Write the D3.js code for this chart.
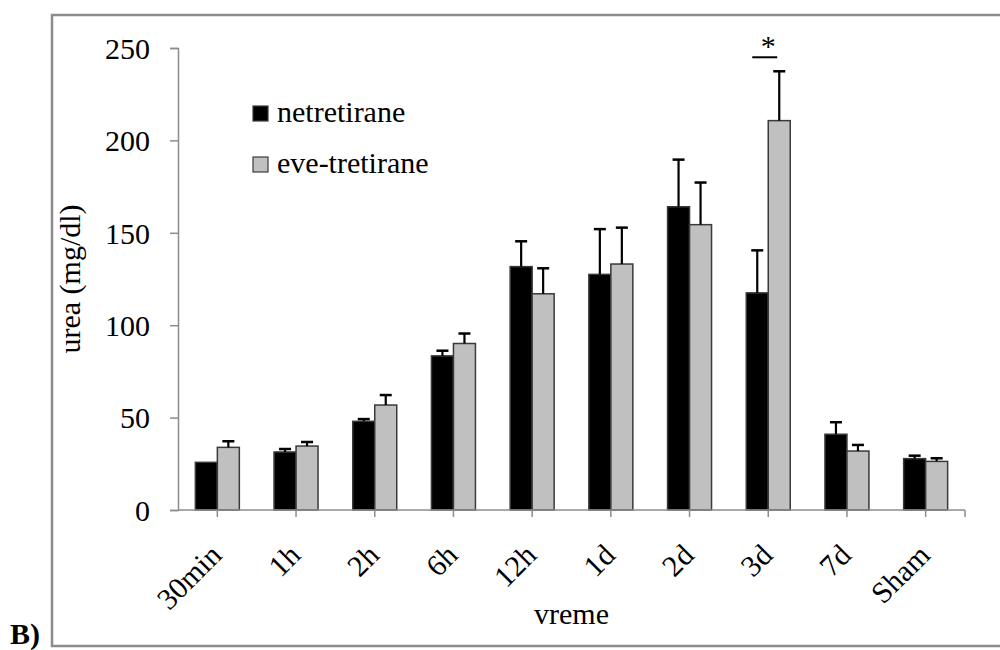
<!DOCTYPE html>
<html>
<head>
<meta charset="utf-8">
<script src="https://cdn.jsdelivr.net/npm/d3@7"></script>
<style>
  html, body { margin: 0; padding: 0; background: #fff; }
  svg { display: block; }
  text { font-family: "Liberation Serif", "Times New Roman", serif; fill: #000; }
</style>
</head>
<body>
<svg id="chart" width="1000" height="650"></svg>
<script>
// Time points after treatment
const categories = ["30min", "1h", "2h", "6h", "12h", "1d", "2d", "3d", "7d", "Sham"];
const seriesNames = ["netretirane", "eve-tretirane"];

// Mean urea (mg/dl) and upward error (SD/SEM) per time point
const netretiraneMean = [25.8, 31.4, 48.0, 83.4, 131.7, 127.5, 164.1, 117.5, 41.0, 27.8];
const netretiraneErr  = [0,    1.6,  1.2,  2.8,  13.7,  24.5,  25.5,  23.0,  6.5,  1.6];
const tretiraneMean   = [33.9, 34.6, 56.8, 90.1, 117.0, 133.1, 154.4, 210.7, 31.9, 26.3];
const tretiraneErr    = [3.3,  2.2,  5.4,  5.4,  13.8,  19.7,  22.8,  26.7,  3.3,  1.7];

const yTicks = [0, 50, 100, 150, 200, 250];

// Significance marker over the 3d pair
const significant = ["3d"];

const colors = { "netretirane": "#000000", "eve-tretirane": "#c0c0c0" };

const svg = d3.select("#chart");

// Outer frame
svg.append("rect")
  .attr("x", 52).attr("y", 15)
  .attr("width", 1000).attr("height", 631)
  .attr("fill", "none").attr("stroke", "#8c8c8c").attr("stroke-width", 2.5);

// Panel letter
svg.append("text")
  .attr("x", 10).attr("y", 644)
  .attr("font-size", 30).attr("font-weight", "bold")
  .text("B)");

const plot = { left: 178, right: 965, top: 48, bottom: 510 };

const x = d3.scaleBand()
  .domain(categories)
  .range([plot.left, plot.right])
  .paddingInner(0.441)
  .paddingOuter(0.2205);

const xSub = d3.scaleBand()
  .domain(seriesNames)
  .range([0, x.bandwidth()]);

const y = d3.scaleLinear()
  .domain([0, 250])
  .range([plot.bottom, plot.top]);

const rows = categories.map((c, i) => ({
  cat: c,
  values: [
    { name: "netretirane", v: netretiraneMean[i], e: netretiraneErr[i] },
    { name: "eve-tretirane", v: tretiraneMean[i], e: tretiraneErr[i] }
  ]
}));

// Y axis
const yAxis = svg.append("g")
  .attr("transform", `translate(${plot.left},0)`)
  .call(d3.axisLeft(y).tickValues(yTicks).tickSize(8).tickPadding(20).tickFormat(d3.format("d")));
yAxis.select(".domain").attr("stroke", "#8c8c8c").attr("stroke-width", 1.5);
yAxis.selectAll(".tick line").attr("stroke", "#8c8c8c").attr("stroke-width", 1.5);
yAxis.selectAll(".tick text")
  .attr("font-size", 30)
  .attr("font-family", "Liberation Serif, Times New Roman, serif")
  .attr("fill", "#000")
  .attr("dy", "0.34em");

// Bars
const groups = svg.append("g").selectAll("g")
  .data(rows).join("g")
  .attr("transform", d => `translate(${x(d.cat)},0)`);

groups.selectAll("rect")
  .data(d => d.values).join("rect")
  .attr("x", d => xSub(d.name))
  .attr("y", d => y(d.v))
  .attr("width", xSub.bandwidth())
  .attr("height", d => y(0) - y(d.v))
  .attr("fill", d => colors[d.name])
  .attr("stroke", "#3a3a3a")
  .attr("stroke-width", 1.5);

// Error bars (upper half only)
const err = groups.selectAll("g.err")
  .data(d => d.values.filter(v => v.e > 0)).join("g")
  .attr("class", "err");
err.append("line")
  .attr("x1", d => xSub(d.name) + xSub.bandwidth() / 2)
  .attr("x2", d => xSub(d.name) + xSub.bandwidth() / 2)
  .attr("y1", d => y(d.v))
  .attr("y2", d => y(d.v + d.e))
  .attr("stroke", "#000").attr("stroke-width", 2.2);
err.append("line")
  .attr("x1", d => xSub(d.name) + xSub.bandwidth() / 2 - 6)
  .attr("x2", d => xSub(d.name) + xSub.bandwidth() / 2 + 6)
  .attr("y1", d => y(d.v + d.e))
  .attr("y2", d => y(d.v + d.e))
  .attr("stroke", "#000").attr("stroke-width", 2.5);

// X axis: ticks at category centres plus one at the end of the axis
const xAxis = svg.append("g");
xAxis.append("line")
  .attr("x1", plot.left).attr("x2", plot.right)
  .attr("y1", plot.bottom).attr("y2", plot.bottom)
  .attr("stroke", "#8c8c8c").attr("stroke-width", 1.5);
const tickXs = categories.map(c => x(c) + x.bandwidth() / 2).concat([plot.right]);
xAxis.selectAll("line.tick")
  .data(tickXs).join("line")
  .attr("class", "tick")
  .attr("x1", d => d).attr("x2", d => d)
  .attr("y1", plot.bottom).attr("y2", plot.bottom + 7)
  .attr("stroke", "#8c8c8c").attr("stroke-width", 1.5);
xAxis.selectAll("text")
  .data(categories).join("text")
  .attr("transform", d => `translate(${x(d) + x.bandwidth() / 2 + 6},557) rotate(-45)`)
  .attr("text-anchor", "end")
  .attr("font-size", 30)
  .text(d => d);

// Axis titles
svg.append("text")
  .attr("x", (plot.left + plot.right) / 2)
  .attr("y", 624)
  .attr("text-anchor", "middle")
  .attr("font-size", 30)
  .text("vreme");

svg.append("text")
  .attr("transform", `translate(80,${(plot.top + plot.bottom) / 2}) rotate(-90)`)
  .attr("text-anchor", "middle")
  .attr("font-size", 30)
  .text("urea (mg/dl)");

// Significance marker
significant.forEach(c => {
  const cx = x(c) + x.bandwidth() / 2;
  const topVal = d3.max(rows.find(r => r.cat === c).values, v => v.v + v.e);
  const ly = y(topVal) - 14;
  svg.append("line")
    .attr("x1", cx - 16).attr("x2", cx + 9)
    .attr("y1", ly).attr("y2", ly)
    .attr("stroke", "#000").attr("stroke-width", 2);
  svg.append("text")
    .attr("x", cx).attr("y", ly - 1)
    .attr("text-anchor", "middle")
    .attr("font-size", 30)
    .text("*");
});

// Legend
const legend = svg.append("g");
const legendY = [106, 157];
seriesNames.forEach((s, i) => {
  legend.append("rect")
    .attr("x", 253).attr("y", legendY[i])
    .attr("width", 15).attr("height", 15)
    .attr("fill", colors[s]).attr("stroke", "#3a3a3a").attr("stroke-width", 1.2);
  legend.append("text")
    .attr("x", 277).attr("y", legendY[i] + 16)
    .attr("font-size", 30)
    .text(s);
});
</script>
</body>
</html>
